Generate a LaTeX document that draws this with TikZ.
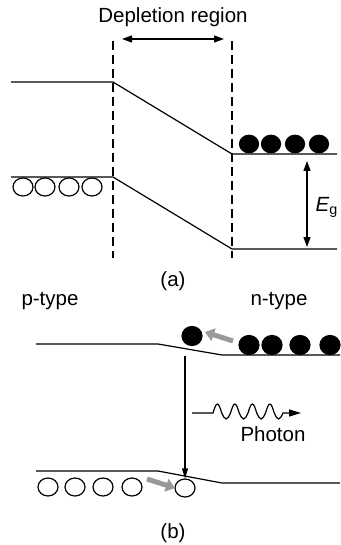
\documentclass[tikz,border=0pt]{standalone}
\usepackage{fontspec}
\setmainfont{Liberation Sans}
\usetikzlibrary{arrows.meta,shapes.geometric}
\begin{document}
\begin{tikzpicture}[
  x=1pt, y=-1pt, line width=1.2pt,
  every node/.style={font=\fontsize{20.5}{24}\selectfont, inner sep=0pt},
  band/.style={draw},
  edge/.style={draw, dash pattern=on 9pt off 5pt},
  elec/.style={ellipse, draw, fill=black, minimum width=19pt, minimum height=17.5pt},
  hole/.style={ellipse, draw, fill=white, minimum width=20pt, minimum height=18pt},
  tip/.style={-{Triangle[length=10pt,width=6pt]}},
  dbl/.style={{Triangle[length=10pt,width=7pt]}-{Triangle[length=10pt,width=7pt]}},
  push/.style={draw=black!40, line width=5pt, -{Triangle[length=9pt,width=13pt]}}
]
\useasboundingbox (0,0) rectangle (340,545);
% (a)
\node (dep) at (173,17) {Depletion region};
\coordinate (dl0) at (113,41); \coordinate (dl1) at (113,258);
\coordinate (dr0) at (232,41); \coordinate (dr1) at (232,258);
\draw[edge] (dl0) -- (dl1);
\draw[edge] (dr0) -- (dr1);
\coordinate (w0) at (122,39); \coordinate (w1) at (224,39);
\draw[dbl] (w0) -- (w1);
\coordinate (ca0) at (11,82); \coordinate (ca1) at (113,82);
\coordinate (ca2) at (232,154); \coordinate (ca3) at (337,154);
\draw[band] (ca0) -- (ca1) -- (ca2) -- (ca3);
\coordinate (va0) at (11,177); \coordinate (va1) at (113,177);
\coordinate (va2) at (232,249); \coordinate (va3) at (337,249);
\draw[band] (va0) -- (va1) -- (va2) -- (va3);
\foreach \x [count=\i] in {249,271,295,319}
  \node[elec] (ea\i) at (\x,144) {};
\foreach \x [count=\i] in {23,45,69,92}
  \node[hole] (ha\i) at (\x,187) {};
\coordinate (g0) at (307,161); \coordinate (g1) at (307,247);
\draw[dbl] (g0) -- (g1);
\node[anchor=west] (eg) at (315,207) {\textit{E}\textsubscript{g}};
\node (cap a) at (173,281) {(a)};
% (b)
\node (ptype) at (50,301) {p-type};
\node (ntype) at (279,301) {n-type};
\coordinate (cb0) at (36,344); \coordinate (cb1) at (158,344);
\coordinate (cb2) at (222,355); \coordinate (cb3) at (340,355);
\draw[band] (cb0) -- (cb1) -- (cb2) -- (cb3);
\coordinate (vb0) at (36,471); \coordinate (vb1) at (158,471);
\coordinate (vb2) at (222,483); \coordinate (vb3) at (340,483);
\draw[band] (vb0) -- (vb1) -- (vb2) -- (vb3);
\node[elec, minimum width=20pt, minimum height=19pt] (eb0) at (192,336) {};
\foreach \x [count=\i] in {249,272,300,330}
  \node[elec, minimum width=20pt, minimum height=19pt] (eb\i) at (\x,345) {};
\foreach \x [count=\i] in {48,75,103,132}
  \node[hole] (hb\i) at (\x,487) {};
\node[hole] (hb0) at (185,488) {};
\coordinate (pe0) at (233,341); \coordinate (pe1) at (205,332);
\draw[push] (pe0) -- (pe1);
\coordinate (ph0) at (147,479); \coordinate (ph1) at (175,488);
\draw[push] (ph0) -- (ph1);
\coordinate (drop) at (185,356);
\draw[tip] (drop) -- (hb0.north);
% photon
\coordinate (wave0) at (192,413); \coordinate (wave1) at (301,413);
\draw[-{Triangle[length=12pt,width=7pt]}] (wave0) -- ++(21,0)
  \foreach \k in {1,...,4} {
    sin ++(4.375,-9) cos ++(4.375,9) sin ++(4.375,6) cos ++(4.375,-6)
  } -- (wave1);
\node (photon) at (273,434) {Photon};
\node (cap b) at (173,533) {(b)};
\end{tikzpicture}
\end{document}
